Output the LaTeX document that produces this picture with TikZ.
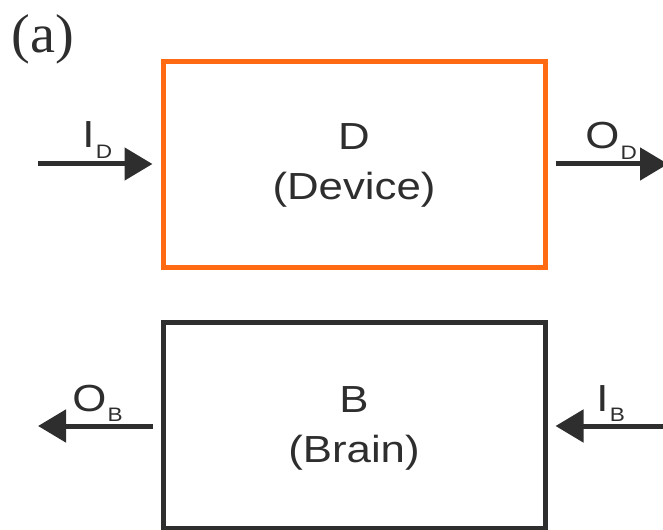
\documentclass[tikz,border=0pt]{standalone}
\usepackage{fontspec}
\setmainfont[FakeStretch=1.16]{Liberation Sans}
\newfontfamily\seriffont[FakeStretch=1.03]{Liberation Serif}
\usetikzlibrary{arrows.meta}
\definecolor{ink}{HTML}{2E2E2E}
\definecolor{orng}{HTML}{FF6A13}
\newcommand\sublab[2]{#1\hspace{1pt}\raisebox{-8.25pt}{\fontsize{14.6}{15}\selectfont #2}}
\begin{document}
\begin{tikzpicture}[x=0.75pt,y=-0.75pt,
  box/.style={draw, line width=3.75pt, minimum width=286.5pt, minimum height=155pt, inner sep=0pt},
  flow/.style={draw=ink, line width=3.75pt, -{Triangle[length=21pt,width=24pt]}},
  boxtext/.style={text=ink, inner sep=0pt, anchor=base, font=\fontsize{28.3}{30}\selectfont},
  lab/.style={text=ink, inner sep=0pt, anchor=base west, font=\fontsize{28.3}{30}\selectfont}]
\useasboundingbox (0,0) rectangle (663,530);
\node[text=ink, inner sep=0pt, anchor=base west, font=\seriffont\fontsize{41}{43}\selectfont] (tag) at (11,53) {(a)};
\node[box, draw=orng] (D) at (354,164.5) {};
\node[box, draw=ink] (B) at (354,425.5) {};
\node[boxtext] (Dname) at (354,150) {D};
\node[boxtext] (Ddesc) at (354,200) {(Device)};
\node[boxtext] (Bname) at (354,412) {B};
\node[boxtext] (Bdesc) at (354,462) {(Brain)};
\coordinate (Din) at (38,164);
\coordinate (Dout) at (668,164);
\coordinate (Bout) at (38,426);
\coordinate (Bin) at (668,426);
\draw[flow, shorten >=6pt] (Din) -- (D.west |- Din);
\draw[flow, shorten <=6pt] (D.east |- Dout) -- (Dout);
\draw[flow, shorten <=6pt] (B.west |- Bout) -- (Bout);
\draw[flow, shorten >=6pt] (Bin) -- (B.east |- Bin);
\node[lab] (IDl) at (82,148) {\sublab{I}{D}};
\node[lab] (ODl) at (585,149) {\sublab{O}{D}};
\node[lab] (OBl) at (72,411) {\sublab{O}{B}};
\node[lab] (IBl) at (596,411) {\sublab{I}{B}};
\end{tikzpicture}
\end{document}
